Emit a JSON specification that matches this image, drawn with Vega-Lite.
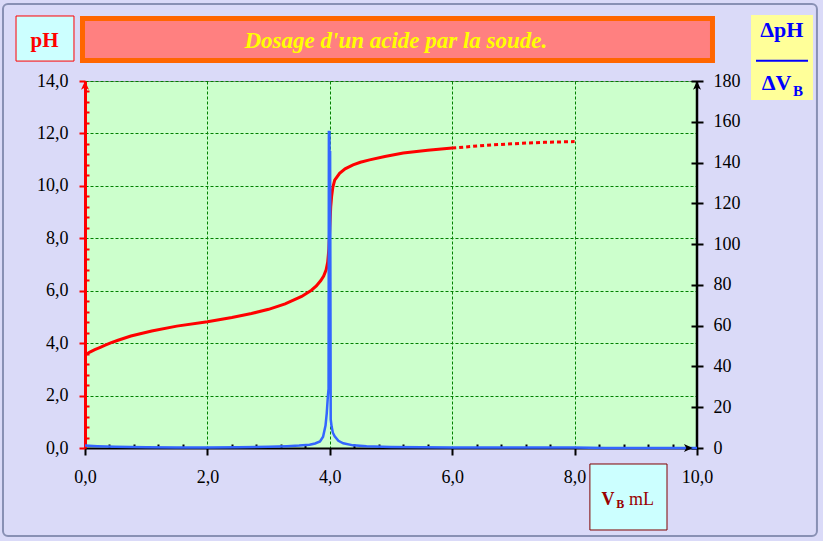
{
  "$schema": "https://vega.github.io/schema/vega-lite/v6.json",
  "width": 612,
  "height": 367,
  "autosize": {"type": "none"},
  "padding": {"left": 85, "top": 81, "right": 126, "bottom": 93},
  "background": "#dadaf8",
  "config": {
    "view": {"fill": "#ccffcc", "stroke": "#888888", "strokeWidth": 1},
    "font": "Liberation Serif",
    "axis": {"labelFont": "Liberation Serif", "labelFontSize": 18, "labelColor": "#000000", "gridColor": "#008000", "gridDash": [3, 2], "gridWidth": 1}
  },
  "datasets": {
    "one": [{}],
    "ph": [
      {"V": 0, "pH": 3.55}, {"V": 0.08, "pH": 3.66}, {"V": 0.16, "pH": 3.75}, {"V": 0.25, "pH": 3.84},
      {"V": 0.33, "pH": 3.92}, {"V": 0.42, "pH": 4.01}, {"V": 0.54, "pH": 4.11}, {"V": 0.75, "pH": 4.27},
      {"V": 1.09, "pH": 4.46}, {"V": 1.5, "pH": 4.65}, {"V": 2.0, "pH": 4.82}, {"V": 2.4, "pH": 4.98},
      {"V": 2.72, "pH": 5.13}, {"V": 3.0, "pH": 5.29}, {"V": 3.27, "pH": 5.5}, {"V": 3.54, "pH": 5.78},
      {"V": 3.7, "pH": 6.02}, {"V": 3.78, "pH": 6.18}, {"V": 3.85, "pH": 6.38}, {"V": 3.9, "pH": 6.56},
      {"V": 3.94, "pH": 6.8}, {"V": 3.965, "pH": 7.08}, {"V": 3.985, "pH": 7.6}, {"V": 4.0, "pH": 8.4},
      {"V": 4.015, "pH": 9.2}, {"V": 4.03, "pH": 9.6}, {"V": 4.05, "pH": 9.95}, {"V": 4.08, "pH": 10.22},
      {"V": 4.16, "pH": 10.48}, {"V": 4.25, "pH": 10.65}, {"V": 4.38, "pH": 10.8}, {"V": 4.5, "pH": 10.9},
      {"V": 4.65, "pH": 10.99}, {"V": 4.9, "pH": 11.12}, {"V": 5.2, "pH": 11.25}, {"V": 5.6, "pH": 11.36},
      {"V": 6.0, "pH": 11.44}, {"V": 6.56, "pH": 11.55}, {"V": 7.1, "pH": 11.62}, {"V": 7.5, "pH": 11.66},
      {"V": 8.0, "pH": 11.69}
    ],
    "deriv": [
      {"V": 0, "d": 1.2}, {"V": 0.2, "d": 0.9}, {"V": 0.5, "d": 0.6}, {"V": 1, "d": 0.4}, {"V": 1.5, "d": 0.3},
      {"V": 2, "d": 0.3}, {"V": 2.5, "d": 0.4}, {"V": 3, "d": 0.6}, {"V": 3.3, "d": 0.9}, {"V": 3.5, "d": 1.2},
      {"V": 3.67, "d": 1.6}, {"V": 3.76, "d": 2.2}, {"V": 3.84, "d": 3.2}, {"V": 3.89, "d": 5.5}, {"V": 3.93, "d": 11},
      {"V": 3.95, "d": 17}, {"V": 3.97, "d": 26}, {"V": 3.98, "d": 29}, {"V": 3.985, "d": 155}, {"V": 3.995, "d": 155},
      {"V": 3.996, "d": 145}, {"V": 4.005, "d": 145}, {"V": 4.015, "d": 14}, {"V": 4.03, "d": 10.5}, {"V": 4.05, "d": 7.5},
      {"V": 4.08, "d": 5.7}, {"V": 4.14, "d": 3.5}, {"V": 4.22, "d": 2.3}, {"V": 4.38, "d": 1.3}, {"V": 4.6, "d": 0.8},
      {"V": 5, "d": 0.5}, {"V": 6, "d": 0.3}, {"V": 7, "d": 0.2}, {"V": 8, "d": 0.2}, {"V": 8.5, "d": 0}, {"V": 10, "d": 0}
    ]
  },
  "resolve": {"scale": {"y": "independent"}, "axis": {"x": "independent"}},
  "layer": [
    {
      "data": {"name": "ph"},
      "transform": [{"filter": "datum.V <= 6"}],
      "mark": {"type": "line", "color": "#ff0000", "strokeWidth": 3},
      "encoding": {
        "x": {
          "field": "V", "type": "quantitative",
          "scale": {"domain": [0, 10], "nice": false},
          "axis": {
            "orient": "bottom", "title": null,
            "values": [0, 2, 4, 6, 8, 10],
            "labelExpr": "replace(format(datum.value, '.1f'), '.', ',')",
            "labelOverlap": false, "labelFlush": false, "labelPadding": 13,
            "domainColor": "#000000", "domainWidth": 2,
            "tickColor": "#000000", "tickWidth": 2, "tickSize": 7,
            "grid": true
          }
        },
        "y": {
          "field": "pH", "type": "quantitative",
          "scale": {"domain": [0, 14], "nice": false},
          "axis": {
            "orient": "left", "title": null,
            "values": [0, 2, 4, 6, 8, 10, 12, 14],
            "labelExpr": "replace(format(datum.value, '.1f'), '.', ',')",
            "labelOverlap": false, "labelFlush": false, "labelPadding": 11,
            "domainColor": "#ff0000", "domainWidth": 3,
            "tickColor": "#ff0000", "tickWidth": 2, "tickSize": 6,
            "grid": true
          }
        }
      }
    },
    {
      "data": {"name": "ph"},
      "transform": [{"filter": "datum.V >= 6"}],
      "mark": {"type": "line", "color": "#ff0000", "strokeWidth": 3, "strokeDash": [4, 3]},
      "encoding": {
        "x": {
          "field": "V", "type": "quantitative", "scale": {"domain": [0, 10], "nice": false},
          "axis": {
            "orient": "bottom", "title": null, "labels": false, "domain": false, "grid": false,
            "values": [0.4, 0.8, 1.2, 1.6, 2.4, 2.8, 3.2, 3.6, 4.4, 4.8, 5.2, 5.6, 6.4, 6.8, 7.2, 7.6, 8.4, 8.8, 9.2, 9.6],
            "tickColor": "#000000", "tickWidth": 2, "tickSize": -4
          }
        },
        "y": {
          "field": "pH", "type": "quantitative", "scale": {"domain": [0, 14], "nice": false},
          "axis": {
            "orient": "left", "title": null, "labels": false, "domain": false, "grid": false,
            "values": [0.4, 0.8, 1.2, 1.6, 2.4, 2.8, 3.2, 3.6, 4.4, 4.8, 5.2, 5.6, 6.4, 6.8, 7.2, 7.6, 8.4, 8.8, 9.2, 9.6, 10.4, 10.8, 11.2, 11.6, 12.4, 12.8, 13.2, 13.6],
            "tickColor": "#ff0000", "tickWidth": 2, "tickSize": -4
          }
        }
      }
    },
    {
      "data": {"name": "one"},
      "mark": {"type": "rect", "fillOpacity": 0, "stroke": "#8890b4", "strokeWidth": 2, "cornerRadius": 5},
      "encoding": {
        "x": {"datum": -1.34, "type": "quantitative", "scale": {"domain": [0, 10], "nice": false}, "axis": null},
        "x2": {"datum": 11.96},
        "y": {"datum": 16.94, "type": "quantitative", "scale": {"domain": [0, 14], "nice": false}, "axis": null},
        "y2": {"datum": -3.36}
      }
    },
    {
      "data": {"name": "one"},
      "mark": {"type": "rect", "fill": "#ccffff", "stroke": "#ff0000", "strokeWidth": 1},
      "encoding": {
        "x": {"datum": -1.127, "type": "quantitative", "scale": {"domain": [0, 10], "nice": false}, "axis": null},
        "x2": {"datum": -0.18},
        "y": {"datum": 16.48, "type": "quantitative", "scale": {"domain": [0, 14], "nice": false}, "axis": null},
        "y2": {"datum": 14.76}
      }
    },
    {
      "data": {"name": "one"},
      "mark": {"type": "text", "font": "Liberation Serif", "fontSize": 21, "fontWeight": "bold", "color": "#ff0000", "align": "center", "baseline": "alphabetic"},
      "encoding": {
        "x": {"datum": -0.66, "type": "quantitative", "scale": {"domain": [0, 10], "nice": false}, "axis": null},
        "y": {"datum": 15.3, "type": "quantitative", "scale": {"domain": [0, 14], "nice": false}, "axis": null},
        "text": {"value": "pH"}
      }
    },
    {
      "data": {"name": "one"},
      "mark": {"type": "rect", "fill": "#ff8080", "stroke": "#ff6600", "strokeWidth": 5},
      "encoding": {
        "x": {"datum": -0.041, "type": "quantitative", "scale": {"domain": [0, 10], "nice": false}, "axis": null},
        "x2": {"datum": 10.253},
        "y": {"datum": 16.384, "type": "quantitative", "scale": {"domain": [0, 14], "nice": false}, "axis": null},
        "y2": {"datum": 14.782}
      }
    },
    {
      "data": {"name": "one"},
      "mark": {"type": "text", "font": "Liberation Serif", "fontSize": 23, "fontWeight": "bold", "fontStyle": "italic", "color": "#ffff00", "align": "center", "baseline": "alphabetic"},
      "encoding": {
        "x": {"datum": 5.08, "type": "quantitative", "scale": {"domain": [0, 10], "nice": false}, "axis": null},
        "y": {"datum": 15.27, "type": "quantitative", "scale": {"domain": [0, 14], "nice": false}, "axis": null},
        "text": {"value": "Dosage d'un acide  par la soude."}
      }
    },
    {
      "data": {"name": "one"},
      "mark": {"type": "rect", "fill": "#ffff99", "strokeWidth": 0},
      "encoding": {
        "x": {"datum": 10.882, "type": "quantitative", "scale": {"domain": [0, 10], "nice": false}, "axis": null},
        "x2": {"datum": 11.895},
        "y": {"datum": 16.518, "type": "quantitative", "scale": {"domain": [0, 14], "nice": false}, "axis": null},
        "y2": {"datum": 13.275}
      }
    },
    {
      "data": {"name": "one"},
      "mark": {"type": "text", "font": "Liberation Serif", "fontSize": 22, "fontWeight": "bold", "color": "#0000ff", "align": "center", "baseline": "alphabetic"},
      "encoding": {
        "x": {"datum": 11.384, "type": "quantitative", "scale": {"domain": [0, 10], "nice": false}, "axis": null},
        "y": {"datum": 15.666, "type": "quantitative", "scale": {"domain": [0, 14], "nice": false}, "axis": null},
        "text": {"value": "ΔpH"}
      }
    },
    {
      "data": {"name": "one"},
      "mark": {"type": "rule", "color": "#0000ff", "strokeWidth": 2},
      "encoding": {
        "x": {"datum": 10.964, "type": "quantitative", "scale": {"domain": [0, 10], "nice": false}, "axis": null},
        "x2": {"datum": 11.814},
        "y": {"datum": 14.775, "type": "quantitative", "scale": {"domain": [0, 14], "nice": false}, "axis": null}
      }
    },
    {
      "data": {"name": "one"},
      "mark": {"type": "text", "font": "Liberation Serif", "fontSize": 22, "fontWeight": "bold", "color": "#0000ff", "align": "right", "baseline": "alphabetic"},
      "encoding": {
        "x": {"datum": 11.544, "type": "quantitative", "scale": {"domain": [0, 10], "nice": false}, "axis": null},
        "y": {"datum": 13.657, "type": "quantitative", "scale": {"domain": [0, 14], "nice": false}, "axis": null},
        "text": {"value": "ΔV"}
      }
    },
    {
      "data": {"name": "one"},
      "mark": {"type": "text", "font": "Liberation Serif", "fontSize": 15, "fontWeight": "bold", "color": "#0000ff", "align": "left", "baseline": "alphabetic"},
      "encoding": {
        "x": {"datum": 11.569, "type": "quantitative", "scale": {"domain": [0, 10], "nice": false}, "axis": null},
        "y": {"datum": 13.428, "type": "quantitative", "scale": {"domain": [0, 14], "nice": false}, "axis": null},
        "text": {"value": "B"}
      }
    },
    {
      "data": {"name": "one"},
      "mark": {"type": "rect", "fill": "#ccffff", "stroke": "#800000", "strokeWidth": 1},
      "encoding": {
        "x": {"datum": 8.25, "type": "quantitative", "scale": {"domain": [0, 10], "nice": false}, "axis": null},
        "x2": {"datum": 9.51},
        "y": {"datum": -0.61, "type": "quantitative", "scale": {"domain": [0, 14], "nice": false}, "axis": null},
        "y2": {"datum": -3.128}
      }
    },
    {
      "data": {"name": "one"},
      "mark": {"type": "text", "font": "Liberation Serif", "fontSize": 18, "fontWeight": "bold", "color": "#990000", "align": "left", "baseline": "alphabetic"},
      "encoding": {
        "x": {"datum": 8.44, "type": "quantitative", "scale": {"domain": [0, 10], "nice": false}, "axis": null},
        "y": {"datum": -2.174, "type": "quantitative", "scale": {"domain": [0, 14], "nice": false}, "axis": null},
        "text": {"value": "V"}
      }
    },
    {
      "data": {"name": "one"},
      "mark": {"type": "text", "font": "Liberation Serif", "fontSize": 12, "fontWeight": "bold", "color": "#990000", "align": "left", "baseline": "alphabetic"},
      "encoding": {
        "x": {"datum": 8.68, "type": "quantitative", "scale": {"domain": [0, 10], "nice": false}, "axis": null},
        "y": {"datum": -2.27, "type": "quantitative", "scale": {"domain": [0, 14], "nice": false}, "axis": null},
        "text": {"value": "B"}
      }
    },
    {
      "data": {"name": "one"},
      "mark": {"type": "text", "font": "Liberation Serif", "fontSize": 18, "color": "#990000", "align": "left", "baseline": "alphabetic"},
      "encoding": {
        "x": {"datum": 8.89, "type": "quantitative", "scale": {"domain": [0, 10], "nice": false}, "axis": null},
        "y": {"datum": -2.174, "type": "quantitative", "scale": {"domain": [0, 14], "nice": false}, "axis": null},
        "text": {"value": "mL"}
      }
    },
    {
      "data": {"name": "one"},
      "mark": {"type": "rule", "color": "#000000", "strokeWidth": 2.5},
      "encoding": {
        "x": {"datum": 10, "type": "quantitative", "scale": {"domain": [0, 10], "nice": false}, "axis": null},
        "y": {"datum": 0, "type": "quantitative", "scale": {"domain": [0, 14], "nice": false}, "axis": null},
        "y2": {"datum": 14}
      }
    },
    {
      "data": {"name": "deriv"},
      "mark": {"type": "line", "color": "#3366ff", "strokeWidth": 2.5},
      "encoding": {
        "x": {"field": "V", "type": "quantitative", "scale": {"domain": [0, 10], "nice": false}, "axis": null},
        "y": {
          "field": "d", "type": "quantitative",
          "scale": {"domain": [0, 180], "nice": false},
          "axis": {
            "orient": "right", "title": null,
            "values": [0, 20, 40, 60, 80, 100, 120, 140, 160, 180],
            "format": "d", "domain": false, "grid": false,
            "offset": -6, "tickSize": 12, "tickWidth": 2, "tickColor": "#000000",
            "labelPadding": 10
          }
        }
      }
    },
    {
      "data": {"name": "one"},
      "mark": {"type": "point", "filled": true, "shape": "M0,0 L0.5,1.1 L0,0.8 L-0.5,1.1 Z", "size": 256, "opacity": 1, "strokeWidth": 0, "color": "#ff0000"},
      "encoding": {
        "x": {"datum": 0, "type": "quantitative", "scale": {"domain": [0, 10], "nice": false}, "axis": null},
        "y": {"datum": 14, "type": "quantitative", "scale": {"domain": [0, 14], "nice": false}, "axis": null}
      }
    },
    {
      "data": {"name": "one"},
      "mark": {"type": "point", "filled": true, "shape": "M0,0 L0.5,1.1 L0,0.8 L-0.5,1.1 Z", "size": 256, "opacity": 1, "strokeWidth": 0, "color": "#000000"},
      "encoding": {
        "x": {"datum": 10, "type": "quantitative", "scale": {"domain": [0, 10], "nice": false}, "axis": null},
        "y": {"datum": 14, "type": "quantitative", "scale": {"domain": [0, 14], "nice": false}, "axis": null}
      }
    },
    {
      "data": {"name": "one"},
      "mark": {"type": "point", "filled": true, "shape": "M0,0 L-1.1,-0.5 L-0.8,0 L-1.1,0.5 Z", "size": 256, "opacity": 1, "strokeWidth": 0, "color": "#000000"},
      "encoding": {
        "x": {"datum": 9.93, "type": "quantitative", "scale": {"domain": [0, 10], "nice": false}, "axis": null},
        "y": {"datum": 0, "type": "quantitative", "scale": {"domain": [0, 14], "nice": false}, "axis": null}
      }
    }
  ]
}
